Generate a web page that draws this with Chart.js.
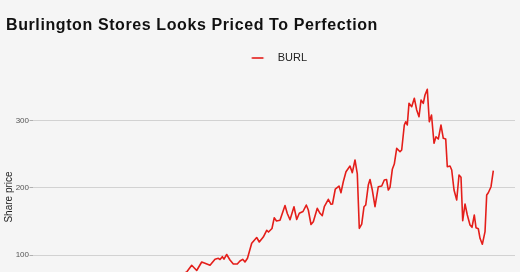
<!DOCTYPE html>
<html><head><meta charset="utf-8">
<script src="https://cdn.jsdelivr.net/npm/chart.js@4.4.1/dist/chart.umd.min.js"></script>
<style>
html,body{margin:0;padding:0;background:#f5f5f5;overflow:hidden;}
</style></head><body>
<canvas id="c" width="520" height="350"></canvas>
<script>
const chartTitle = 'Burlington Stores Looks Priced To Perfection';
const seriesName = 'BURL';
const yAxisTitle = 'Share price';
// x: months since the October 2013 IPO
const monthsSinceIPO = [0,1,2,3,4,5,6,7,8,9,10,11,12,13,14,15,16,17,18,19,20,21,22,23,24,25,26,27,28,29,30,31,32,33,
33.68,34.94,36.2,37.46,38.29,39.55,40.81,41.64,42.07,42.65,
43.07,43.75,44.58,45.42,46.42,47.1,47.78,48.36,48.99,50.05,
51.31,51.96,52.97,53.83,54.28,55.16,55.72,56.3,57.18,58.44,
59.02,59.7,60.7,61.39,62.04,62.97,63.8,64.31,64.99,65.57,
66.57,67.25,67.83,68.34,69.35,70.03,70.4,71.11,72.04,72.54,
73.12,73.8,74.81,75.39,76.07,76.65,77.15,77.76,78.34,78.77,
79.42,79.85,80.43,81.11,81.94,82.8,83.45,84.01,84.46,84.89,
85.47,85.97,86.57,87.41,87.83,88.49,88.84,89.24,89.67,90.35,
91.01,91.61,92.19,92.7,93.27,93.7,94.28,94.79,95.34,95.97,
96.47,97.05,97.73,98.31,98.92,99.32,100,100.43,101.01,101.69,
102.27,102.77,103.2,103.78,104.36,105.04,105.54,106.12,106.55,107.13,
107.56,108.14,108.82,109.24,109.65,110.33,110.91];
const burlPrice = [25,30,31,27,24,30,33,36,35,38,43,47,49,49,51,52,50,55,56,52,57,52,47,43,47,55,59,63,61,63,67,71,72,73,
74.8,84.7,77,89.6,87.7,84.7,93.8,95.1,93.3,97.5,
94,100.7,92.6,86.6,86.6,91.1,93.6,89.6,95.1,117.4,
126,119.3,126.7,136.7,134.1,139.3,155.2,150.5,151.5,173.5,
161.6,152.3,171.7,152.7,161.9,164.6,174.2,166.8,145.3,149.4,
169.3,161.9,158.4,171.7,182.7,175.3,175.7,198,202.4,192.5,
208.8,223.7,232.1,222.2,241.1,220.3,139.6,146,171.7,174.2,
203.9,212.1,196.5,171.7,201.4,202.4,211.4,212.1,196.5,200.5,
227.2,235.1,258.4,253.4,255.9,293,297.9,293,325.2,320.2,
332.7,315.3,305.3,330.1,325.2,337.6,346,297.9,307.9,265.9,
275.6,272.2,293,273.3,272.2,231.1,232.1,226.2,196.5,181.7,
218.8,215.4,150.9,175.7,159.4,144.5,141.1,159.4,140.5,139,
124.8,115.9,134.6,189.1,192.5,201.4,225.2];
const yTickValues = [100,200,300];
const xTickMonths = [3,27,51,75,99];
const xTickLabels = ['2014','2016','2018','2020','2022'];

const lineColor = '#e41e1a';
const legendLine = document.createElement('canvas');
legendLine.width = 58; legendLine.height = 4;
const lctx = legendLine.getContext('2d');
lctx.strokeStyle = lineColor; lctx.lineWidth = 1.6;
lctx.beginPath(); lctx.moveTo(37.6, 2); lctx.lineTo(49.4, 2); lctx.stroke();

// widen the title's letter spacing to match the reference
const titleSpacing = {
  id: 'titleSpacing',
  afterLayout(chart) {
    const tb = chart.titleBlock;
    if (tb && !tb._spaced) {
      const orig = tb.draw.bind(tb);
      tb.draw = function() {
        const ctx = chart.ctx;
        const prev = ctx.letterSpacing;
        ctx.letterSpacing = '0.6px';
        orig();
        ctx.letterSpacing = prev || '0px';
      };
      tb._spaced = true;
    }
  }
};

new Chart(document.getElementById('c'), {
  type: 'line',
  data: {
    datasets: [{
      label: seriesName,
      data: monthsSinceIPO.map((m, i) => ({x: m, y: burlPrice[i]})),
      borderColor: lineColor,
      backgroundColor: lineColor,
      borderWidth: 1.6,
      borderJoinStyle: 'round',
      pointRadius: 0,
      tension: 0,
      fill: false
    }]
  },
  plugins: [titleSpacing],
  options: {
    responsive: false,
    animation: false,
    layout: {padding: {left: 6, right: 5, top: 0, bottom: 9.5}},
    plugins: {
      title: {display: true, text: chartTitle, align: 'start', color: '#111',
        font: {family: 'Liberation Sans', size: 16, weight: 'bold'}, padding: {top: 15.5, bottom: 7.8}},
      legend: {display: true, position: 'top', align: 'center',
        labels: {usePointStyle: true, pointStyle: legendLine, pointStyleWidth: 58.2, color: '#222',
          font: {family: 'Liberation Sans', size: 11}, padding: 10}},
      tooltip: {enabled: false}
    },
    scales: {
      x: {type: 'linear', min: -5.16, max: 116.37,
        grid: {display: false}, border: {display: false},
        afterBuildTicks: s => { s.ticks = xTickMonths.map(v => ({value: v})); },
        afterFit: s => { s.height = 20; },
        ticks: {callback: v => xTickLabels[xTickMonths.indexOf(v)], autoSkip: false, maxRotation: 0,
          font: {family: 'Liberation Sans', size: 8}, color: '#555'}},
      y: {type: 'linear', min: 2.75, max: 369.5,
        afterBuildTicks: s => { s.ticks = yTickValues.map(v => ({value: v})); },
        afterFit: s => { s.width = 26.5; },
        grid: {color: '#d2d2d2', lineWidth: 1, tickLength: 3, tickColor: '#b0b0b0'},
        border: {display: false},
        ticks: {padding: 0.5, font: {family: 'Liberation Sans', size: 8}, color: '#555'},
        title: {display: true, text: yAxisTitle, color: '#222',
          font: {family: 'Liberation Sans', size: 10}, padding: {top: -3.2, bottom: 0}}}
    }
  }
});
</script>
</body></html>
